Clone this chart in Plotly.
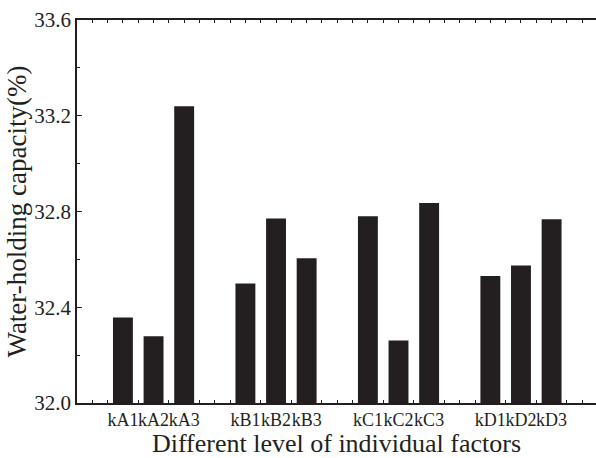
import plotly.graph_objects as go

# Data
labels_A = ["kA1", "kA2", "kA3"]
labels_B = ["kB1", "kB2", "kB3"]
labels_C = ["kC1", "kC2", "kC3"]
labels_D = ["kD1", "kD2", "kD3"]
values_A = [32.357, 32.279, 33.240]
values_B = [32.499, 32.771, 32.605]
values_C = [32.780, 32.261, 32.835]
values_D = [32.531, 32.574, 32.768]

y_ticks = [32.0, 32.4, 32.8, 33.2, 33.6]

all_labels = [labels_A, labels_B, labels_C, labels_D]
all_values = [values_A, values_B, values_C, values_D]

# slot positions: 3 bars per group, one empty slot between groups
xs, ys, texts = [], [], []
for g, (labs, vals) in enumerate(zip(all_labels, all_values)):
    for i, (l, v) in enumerate(zip(labs, vals)):
        xs.append(g * 4 + i)
        ys.append(v)
        texts.append(l)

FONT = "Liberation Serif"
INK = "#231f20"

fig = go.Figure(
    go.Bar(
        x=xs, y=ys,
        width=0.65,
        marker=dict(color=INK, line=dict(width=0)),
        showlegend=False,
        hoverinfo="skip",
    )
)

fig.update_layout(
    width=596, height=458,
    margin=dict(l=77, r=0, t=20, b=55),
    paper_bgcolor="white", plot_bgcolor="white",
    font=dict(family=FONT, color=INK),
)

fig.update_xaxes(
    range=[-1.5, 15.45],
    tickvals=xs, ticktext=texts, tickangle=0,
    tickfont=dict(size=18, family=FONT, color=INK),
    ticks="inside", ticklen=3, tickcolor=INK, tickwidth=1,
    minor=dict(ticks="inside", dtick=0.5, tick0=-1.5, ticklen=3, tickcolor=INK),
    showline=True, linecolor=INK, linewidth=1.5, mirror="allticks",
    showgrid=False, zeroline=False, automargin=False,
    title=dict(text="Different level of individual factors",
               font=dict(size=26, family=FONT, color=INK), standoff=0),
)

fig.update_yaxes(
    range=[32.0, 33.6],
    tickvals=y_ticks, ticktext=[f"{v:.1f}" for v in y_ticks],
    tickfont=dict(size=21, family=FONT, color=INK),
    ticks="inside", ticklen=5, tickcolor=INK, tickwidth=1,
    minor=dict(ticks="inside", dtick=0.2, tick0=32.0, ticklen=3, tickcolor=INK),
    showline=True, linecolor=INK, linewidth=1.5, mirror=False,
    showgrid=False, zeroline=False, automargin=False,
    title=dict(text="Water-holding capacity(%)",
               font=dict(size=27, family=FONT, color=INK), standoff=0),
)

fig.write_html(
    "out.html",
    config={"displayModeBar": False},
    post_script="document.body.style.margin='0';document.body.style.padding='0';document.body.style.overflow='hidden';",
)
